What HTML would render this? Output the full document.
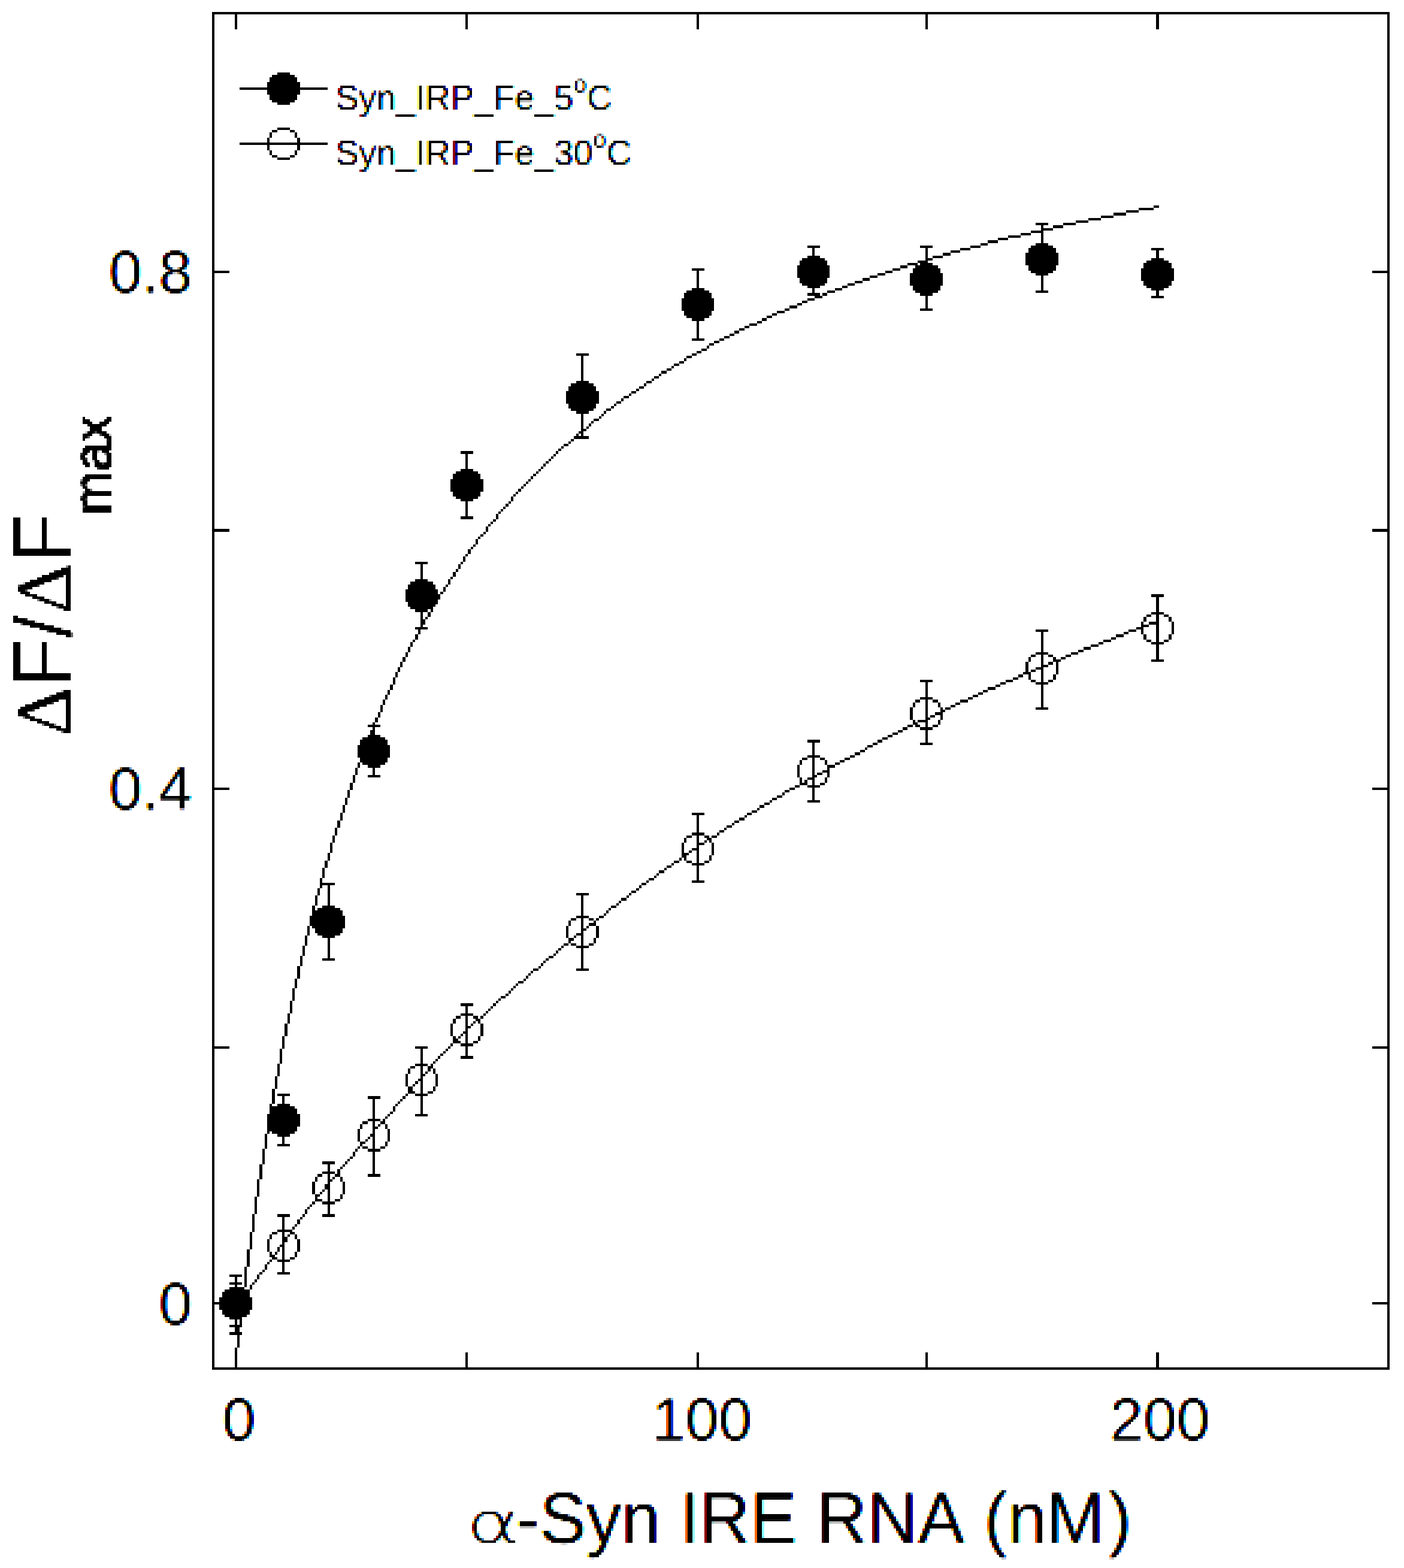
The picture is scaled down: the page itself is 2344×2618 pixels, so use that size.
<!DOCTYPE html>
<html lang="en"><head><meta charset="utf-8"><title>Syn IRP Fe binding curve</title>
<style>
html,body{margin:0;padding:0;background:#fff;}
body{width:2344px;height:2618px;}
svg{display:block;}
text{font-family:"Liberation Sans",sans-serif;fill:#000;}
.g{fill:#000;stroke:none;shape-rendering:crispEdges;}
.tk{font-size:100px;stroke:#fff;stroke-width:0.8px;}
.lg{font-size:58.6px;stroke:#fff;stroke-width:0.6px;}
.sym{font-family:"Liberation Serif",serif;}
</style></head><body>
<svg width="2344" height="2618" viewBox="0 0 2344 2618">
<rect x="0" y="0" width="2344" height="2618" fill="#fff"/>
<defs><filter id="fl" filterUnits="userSpaceOnUse" x="548" y="123" width="520" height="180" color-interpolation-filters="sRGB"><feColorMatrix in="SourceGraphic" type="matrix" values="-1 0 0 1 0 -1 0 0 1 0 -1 0 0 1 0 0 0 0 0 1" result="v"/><feOffset in="v" dx="1" dy="0" result="vr"/><feOffset in="v" dx="-1" dy="0" result="vb"/><feColorMatrix in="vr" type="matrix" values="1 0 0 0 0 0 0 0 0 0 0 0 0 0 0 0 0 0 0 1" result="cr"/><feColorMatrix in="v" type="matrix" values="0 0 0 0 0 0 1 0 0 0 0 0 0 0 0 0 0 0 0 1" result="cg"/><feColorMatrix in="vb" type="matrix" values="0 0 0 0 0 0 0 0 0 0 0 0 1 0 0 0 0 0 0 1" result="cb"/><feComposite in="cr" in2="cg" operator="arithmetic" k1="0" k2="1" k3="1" k4="0" result="crg"/><feComposite in="crg" in2="cb" operator="arithmetic" k1="0" k2="1" k3="1" k4="0" result="rgb"/><feGaussianBlur in="rgb" stdDeviation="1.15" result="avg0"/><feComponentTransfer in="avg0" result="avg"><feFuncR type="linear" slope="2.2" intercept="-0.3"/><feFuncG type="linear" slope="2.2" intercept="-0.3"/><feFuncB type="linear" slope="2.2" intercept="-0.3"/></feComponentTransfer><feFlood flood-color="#000" x="548" y="123" width="4" height="4" result="blk"/><feFlood flood-color="#fff" x="549" y="124" width="1" height="1" result="dot"/><feMerge x="548" y="123" width="4" height="4" result="tile"><feMergeNode in="blk"/><feMergeNode in="dot"/></feMerge><feTile in="tile" result="grid"/><feComposite in="avg" in2="grid" operator="arithmetic" k1="1" k2="0" k3="0" k4="0" result="smp"/><feMorphology in="smp" operator="dilate" radius="1" result="d3"/><feOffset in="d3" dx="1" dy="0" result="d3x"/><feBlend in="d3" in2="d3x" mode="lighten" result="d4x"/><feOffset in="d4x" dx="0" dy="1" result="d4xy"/><feBlend in="d4x" in2="d4xy" mode="lighten" result="blocks"/><feColorMatrix in="blocks" type="matrix" values="0 0 0 0 1 0 0 0 0 1 0 0 0 0 0 0 0 1 0 0" result="Y"/><feColorMatrix in="blocks" type="matrix" values="0 0 0 0 1 0 0 0 0 0 0 0 0 0 1 0 1 0 0 0" result="M"/><feColorMatrix in="blocks" type="matrix" values="0 0 0 0 0 0 0 0 0 1 0 0 0 0 1 1 0 0 0 0" result="C"/><feBlend in="M" in2="Y" mode="multiply" result="YM"/><feBlend in="C" in2="YM" mode="multiply"/></filter><filter id="fa" filterUnits="userSpaceOnUse" x="172" y="406" width="156" height="100" color-interpolation-filters="sRGB"><feColorMatrix in="SourceGraphic" type="matrix" values="-1 0 0 1 0 -1 0 0 1 0 -1 0 0 1 0 0 0 0 0 1" result="v"/><feOffset in="v" dx="1" dy="0" result="vr"/><feOffset in="v" dx="-1" dy="0" result="vb"/><feColorMatrix in="vr" type="matrix" values="1 0 0 0 0 0 0 0 0 0 0 0 0 0 0 0 0 0 0 1" result="cr"/><feColorMatrix in="v" type="matrix" values="0 0 0 0 0 0 1 0 0 0 0 0 0 0 0 0 0 0 0 1" result="cg"/><feColorMatrix in="vb" type="matrix" values="0 0 0 0 0 0 0 0 0 0 0 0 1 0 0 0 0 0 0 1" result="cb"/><feComposite in="cr" in2="cg" operator="arithmetic" k1="0" k2="1" k3="1" k4="0" result="crg"/><feComposite in="crg" in2="cb" operator="arithmetic" k1="0" k2="1" k3="1" k4="0" result="rgb"/><feGaussianBlur in="rgb" stdDeviation="1.15" result="avg0"/><feComponentTransfer in="avg0" result="avg"><feFuncR type="linear" slope="2.2" intercept="-0.3"/><feFuncG type="linear" slope="2.2" intercept="-0.3"/><feFuncB type="linear" slope="2.2" intercept="-0.3"/></feComponentTransfer><feFlood flood-color="#000" x="172" y="406" width="4" height="4" result="blk"/><feFlood flood-color="#fff" x="173" y="407" width="1" height="1" result="dot"/><feMerge x="172" y="406" width="4" height="4" result="tile"><feMergeNode in="blk"/><feMergeNode in="dot"/></feMerge><feTile in="tile" result="grid"/><feComposite in="avg" in2="grid" operator="arithmetic" k1="1" k2="0" k3="0" k4="0" result="smp"/><feMorphology in="smp" operator="dilate" radius="1" result="d3"/><feOffset in="d3" dx="1" dy="0" result="d3x"/><feBlend in="d3" in2="d3x" mode="lighten" result="d4x"/><feOffset in="d4x" dx="0" dy="1" result="d4xy"/><feBlend in="d4x" in2="d4xy" mode="lighten" result="blocks"/><feColorMatrix in="blocks" type="matrix" values="0 0 0 0 1 0 0 0 0 1 0 0 0 0 0 0 0 1 0 0" result="Y"/><feColorMatrix in="blocks" type="matrix" values="0 0 0 0 1 0 0 0 0 0 0 0 0 0 1 0 1 0 0 0" result="M"/><feColorMatrix in="blocks" type="matrix" values="0 0 0 0 0 0 0 0 0 1 0 0 0 0 1 1 0 0 0 0" result="C"/><feBlend in="M" in2="Y" mode="multiply" result="YM"/><feBlend in="C" in2="YM" mode="multiply"/></filter><filter id="fb" filterUnits="userSpaceOnUse" x="172" y="1269" width="156" height="100" color-interpolation-filters="sRGB"><feColorMatrix in="SourceGraphic" type="matrix" values="-1 0 0 1 0 -1 0 0 1 0 -1 0 0 1 0 0 0 0 0 1" result="v"/><feOffset in="v" dx="1" dy="0" result="vr"/><feOffset in="v" dx="-1" dy="0" result="vb"/><feColorMatrix in="vr" type="matrix" values="1 0 0 0 0 0 0 0 0 0 0 0 0 0 0 0 0 0 0 1" result="cr"/><feColorMatrix in="v" type="matrix" values="0 0 0 0 0 0 1 0 0 0 0 0 0 0 0 0 0 0 0 1" result="cg"/><feColorMatrix in="vb" type="matrix" values="0 0 0 0 0 0 0 0 0 0 0 0 1 0 0 0 0 0 0 1" result="cb"/><feComposite in="cr" in2="cg" operator="arithmetic" k1="0" k2="1" k3="1" k4="0" result="crg"/><feComposite in="crg" in2="cb" operator="arithmetic" k1="0" k2="1" k3="1" k4="0" result="rgb"/><feGaussianBlur in="rgb" stdDeviation="1.15" result="avg0"/><feComponentTransfer in="avg0" result="avg"><feFuncR type="linear" slope="2.2" intercept="-0.3"/><feFuncG type="linear" slope="2.2" intercept="-0.3"/><feFuncB type="linear" slope="2.2" intercept="-0.3"/></feComponentTransfer><feFlood flood-color="#000" x="172" y="1269" width="4" height="4" result="blk"/><feFlood flood-color="#fff" x="173" y="1270" width="1" height="1" result="dot"/><feMerge x="172" y="1269" width="4" height="4" result="tile"><feMergeNode in="blk"/><feMergeNode in="dot"/></feMerge><feTile in="tile" result="grid"/><feComposite in="avg" in2="grid" operator="arithmetic" k1="1" k2="0" k3="0" k4="0" result="smp"/><feMorphology in="smp" operator="dilate" radius="1" result="d3"/><feOffset in="d3" dx="1" dy="0" result="d3x"/><feBlend in="d3" in2="d3x" mode="lighten" result="d4x"/><feOffset in="d4x" dx="0" dy="1" result="d4xy"/><feBlend in="d4x" in2="d4xy" mode="lighten" result="blocks"/><feColorMatrix in="blocks" type="matrix" values="0 0 0 0 1 0 0 0 0 1 0 0 0 0 0 0 0 1 0 0" result="Y"/><feColorMatrix in="blocks" type="matrix" values="0 0 0 0 1 0 0 0 0 0 0 0 0 0 1 0 1 0 0 0" result="M"/><feColorMatrix in="blocks" type="matrix" values="0 0 0 0 0 0 0 0 0 1 0 0 0 0 1 1 0 0 0 0" result="C"/><feBlend in="M" in2="Y" mode="multiply" result="YM"/><feBlend in="C" in2="YM" mode="multiply"/></filter><filter id="fc" filterUnits="userSpaceOnUse" x="256" y="2129" width="72" height="100" color-interpolation-filters="sRGB"><feColorMatrix in="SourceGraphic" type="matrix" values="-1 0 0 1 0 -1 0 0 1 0 -1 0 0 1 0 0 0 0 0 1" result="v"/><feOffset in="v" dx="1" dy="0" result="vr"/><feOffset in="v" dx="-1" dy="0" result="vb"/><feColorMatrix in="vr" type="matrix" values="1 0 0 0 0 0 0 0 0 0 0 0 0 0 0 0 0 0 0 1" result="cr"/><feColorMatrix in="v" type="matrix" values="0 0 0 0 0 0 1 0 0 0 0 0 0 0 0 0 0 0 0 1" result="cg"/><feColorMatrix in="vb" type="matrix" values="0 0 0 0 0 0 0 0 0 0 0 0 1 0 0 0 0 0 0 1" result="cb"/><feComposite in="cr" in2="cg" operator="arithmetic" k1="0" k2="1" k3="1" k4="0" result="crg"/><feComposite in="crg" in2="cb" operator="arithmetic" k1="0" k2="1" k3="1" k4="0" result="rgb"/><feGaussianBlur in="rgb" stdDeviation="1.15" result="avg0"/><feComponentTransfer in="avg0" result="avg"><feFuncR type="linear" slope="2.2" intercept="-0.3"/><feFuncG type="linear" slope="2.2" intercept="-0.3"/><feFuncB type="linear" slope="2.2" intercept="-0.3"/></feComponentTransfer><feFlood flood-color="#000" x="256" y="2129" width="4" height="4" result="blk"/><feFlood flood-color="#fff" x="257" y="2130" width="1" height="1" result="dot"/><feMerge x="256" y="2129" width="4" height="4" result="tile"><feMergeNode in="blk"/><feMergeNode in="dot"/></feMerge><feTile in="tile" result="grid"/><feComposite in="avg" in2="grid" operator="arithmetic" k1="1" k2="0" k3="0" k4="0" result="smp"/><feMorphology in="smp" operator="dilate" radius="1" result="d3"/><feOffset in="d3" dx="1" dy="0" result="d3x"/><feBlend in="d3" in2="d3x" mode="lighten" result="d4x"/><feOffset in="d4x" dx="0" dy="1" result="d4xy"/><feBlend in="d4x" in2="d4xy" mode="lighten" result="blocks"/><feColorMatrix in="blocks" type="matrix" values="0 0 0 0 1 0 0 0 0 1 0 0 0 0 0 0 0 1 0 0" result="Y"/><feColorMatrix in="blocks" type="matrix" values="0 0 0 0 1 0 0 0 0 0 0 0 0 0 1 0 1 0 0 0" result="M"/><feColorMatrix in="blocks" type="matrix" values="0 0 0 0 0 0 0 0 0 1 0 0 0 0 1 1 0 0 0 0" result="C"/><feBlend in="M" in2="Y" mode="multiply" result="YM"/><feBlend in="C" in2="YM" mode="multiply"/></filter><filter id="fd" filterUnits="userSpaceOnUse" x="364" y="2322" width="72" height="100" color-interpolation-filters="sRGB"><feColorMatrix in="SourceGraphic" type="matrix" values="-1 0 0 1 0 -1 0 0 1 0 -1 0 0 1 0 0 0 0 0 1" result="v"/><feOffset in="v" dx="1" dy="0" result="vr"/><feOffset in="v" dx="-1" dy="0" result="vb"/><feColorMatrix in="vr" type="matrix" values="1 0 0 0 0 0 0 0 0 0 0 0 0 0 0 0 0 0 0 1" result="cr"/><feColorMatrix in="v" type="matrix" values="0 0 0 0 0 0 1 0 0 0 0 0 0 0 0 0 0 0 0 1" result="cg"/><feColorMatrix in="vb" type="matrix" values="0 0 0 0 0 0 0 0 0 0 0 0 1 0 0 0 0 0 0 1" result="cb"/><feComposite in="cr" in2="cg" operator="arithmetic" k1="0" k2="1" k3="1" k4="0" result="crg"/><feComposite in="crg" in2="cb" operator="arithmetic" k1="0" k2="1" k3="1" k4="0" result="rgb"/><feGaussianBlur in="rgb" stdDeviation="1.15" result="avg0"/><feComponentTransfer in="avg0" result="avg"><feFuncR type="linear" slope="2.2" intercept="-0.3"/><feFuncG type="linear" slope="2.2" intercept="-0.3"/><feFuncB type="linear" slope="2.2" intercept="-0.3"/></feComponentTransfer><feFlood flood-color="#000" x="364" y="2322" width="4" height="4" result="blk"/><feFlood flood-color="#fff" x="365" y="2323" width="1" height="1" result="dot"/><feMerge x="364" y="2322" width="4" height="4" result="tile"><feMergeNode in="blk"/><feMergeNode in="dot"/></feMerge><feTile in="tile" result="grid"/><feComposite in="avg" in2="grid" operator="arithmetic" k1="1" k2="0" k3="0" k4="0" result="smp"/><feMorphology in="smp" operator="dilate" radius="1" result="d3"/><feOffset in="d3" dx="1" dy="0" result="d3x"/><feBlend in="d3" in2="d3x" mode="lighten" result="d4x"/><feOffset in="d4x" dx="0" dy="1" result="d4xy"/><feBlend in="d4x" in2="d4xy" mode="lighten" result="blocks"/><feColorMatrix in="blocks" type="matrix" values="0 0 0 0 1 0 0 0 0 1 0 0 0 0 0 0 0 1 0 0" result="Y"/><feColorMatrix in="blocks" type="matrix" values="0 0 0 0 1 0 0 0 0 0 0 0 0 0 1 0 1 0 0 0" result="M"/><feColorMatrix in="blocks" type="matrix" values="0 0 0 0 0 0 0 0 0 1 0 0 0 0 1 1 0 0 0 0" result="C"/><feBlend in="M" in2="Y" mode="multiply" result="YM"/><feBlend in="C" in2="YM" mode="multiply"/></filter><filter id="fe" filterUnits="userSpaceOnUse" x="1084" y="2322" width="180" height="100" color-interpolation-filters="sRGB"><feColorMatrix in="SourceGraphic" type="matrix" values="-1 0 0 1 0 -1 0 0 1 0 -1 0 0 1 0 0 0 0 0 1" result="v"/><feOffset in="v" dx="1" dy="0" result="vr"/><feOffset in="v" dx="-1" dy="0" result="vb"/><feColorMatrix in="vr" type="matrix" values="1 0 0 0 0 0 0 0 0 0 0 0 0 0 0 0 0 0 0 1" result="cr"/><feColorMatrix in="v" type="matrix" values="0 0 0 0 0 0 1 0 0 0 0 0 0 0 0 0 0 0 0 1" result="cg"/><feColorMatrix in="vb" type="matrix" values="0 0 0 0 0 0 0 0 0 0 0 0 1 0 0 0 0 0 0 1" result="cb"/><feComposite in="cr" in2="cg" operator="arithmetic" k1="0" k2="1" k3="1" k4="0" result="crg"/><feComposite in="crg" in2="cb" operator="arithmetic" k1="0" k2="1" k3="1" k4="0" result="rgb"/><feGaussianBlur in="rgb" stdDeviation="1.15" result="avg0"/><feComponentTransfer in="avg0" result="avg"><feFuncR type="linear" slope="2.2" intercept="-0.3"/><feFuncG type="linear" slope="2.2" intercept="-0.3"/><feFuncB type="linear" slope="2.2" intercept="-0.3"/></feComponentTransfer><feFlood flood-color="#000" x="1084" y="2322" width="4" height="4" result="blk"/><feFlood flood-color="#fff" x="1085" y="2323" width="1" height="1" result="dot"/><feMerge x="1084" y="2322" width="4" height="4" result="tile"><feMergeNode in="blk"/><feMergeNode in="dot"/></feMerge><feTile in="tile" result="grid"/><feComposite in="avg" in2="grid" operator="arithmetic" k1="1" k2="0" k3="0" k4="0" result="smp"/><feMorphology in="smp" operator="dilate" radius="1" result="d3"/><feOffset in="d3" dx="1" dy="0" result="d3x"/><feBlend in="d3" in2="d3x" mode="lighten" result="d4x"/><feOffset in="d4x" dx="0" dy="1" result="d4xy"/><feBlend in="d4x" in2="d4xy" mode="lighten" result="blocks"/><feColorMatrix in="blocks" type="matrix" values="0 0 0 0 1 0 0 0 0 1 0 0 0 0 0 0 0 1 0 0" result="Y"/><feColorMatrix in="blocks" type="matrix" values="0 0 0 0 1 0 0 0 0 0 0 0 0 0 1 0 1 0 0 0" result="M"/><feColorMatrix in="blocks" type="matrix" values="0 0 0 0 0 0 0 0 0 1 0 0 0 0 1 1 0 0 0 0" result="C"/><feBlend in="M" in2="Y" mode="multiply" result="YM"/><feBlend in="C" in2="YM" mode="multiply"/></filter><filter id="ff" filterUnits="userSpaceOnUse" x="1844" y="2322" width="184" height="100" color-interpolation-filters="sRGB"><feColorMatrix in="SourceGraphic" type="matrix" values="-1 0 0 1 0 -1 0 0 1 0 -1 0 0 1 0 0 0 0 0 1" result="v"/><feOffset in="v" dx="1" dy="0" result="vr"/><feOffset in="v" dx="-1" dy="0" result="vb"/><feColorMatrix in="vr" type="matrix" values="1 0 0 0 0 0 0 0 0 0 0 0 0 0 0 0 0 0 0 1" result="cr"/><feColorMatrix in="v" type="matrix" values="0 0 0 0 0 0 1 0 0 0 0 0 0 0 0 0 0 0 0 1" result="cg"/><feColorMatrix in="vb" type="matrix" values="0 0 0 0 0 0 0 0 0 0 0 0 1 0 0 0 0 0 0 1" result="cb"/><feComposite in="cr" in2="cg" operator="arithmetic" k1="0" k2="1" k3="1" k4="0" result="crg"/><feComposite in="crg" in2="cb" operator="arithmetic" k1="0" k2="1" k3="1" k4="0" result="rgb"/><feGaussianBlur in="rgb" stdDeviation="1.15" result="avg0"/><feComponentTransfer in="avg0" result="avg"><feFuncR type="linear" slope="2.2" intercept="-0.3"/><feFuncG type="linear" slope="2.2" intercept="-0.3"/><feFuncB type="linear" slope="2.2" intercept="-0.3"/></feComponentTransfer><feFlood flood-color="#000" x="1844" y="2322" width="4" height="4" result="blk"/><feFlood flood-color="#fff" x="1845" y="2323" width="1" height="1" result="dot"/><feMerge x="1844" y="2322" width="4" height="4" result="tile"><feMergeNode in="blk"/><feMergeNode in="dot"/></feMerge><feTile in="tile" result="grid"/><feComposite in="avg" in2="grid" operator="arithmetic" k1="1" k2="0" k3="0" k4="0" result="smp"/><feMorphology in="smp" operator="dilate" radius="1" result="d3"/><feOffset in="d3" dx="1" dy="0" result="d3x"/><feBlend in="d3" in2="d3x" mode="lighten" result="d4x"/><feOffset in="d4x" dx="0" dy="1" result="d4xy"/><feBlend in="d4x" in2="d4xy" mode="lighten" result="blocks"/><feColorMatrix in="blocks" type="matrix" values="0 0 0 0 1 0 0 0 0 1 0 0 0 0 0 0 0 1 0 0" result="Y"/><feColorMatrix in="blocks" type="matrix" values="0 0 0 0 1 0 0 0 0 0 0 0 0 0 1 0 1 0 0 0" result="M"/><feColorMatrix in="blocks" type="matrix" values="0 0 0 0 0 0 0 0 0 1 0 0 0 0 1 1 0 0 0 0" result="C"/><feBlend in="M" in2="Y" mode="multiply" result="YM"/><feBlend in="C" in2="YM" mode="multiply"/></filter><filter id="fx" filterUnits="userSpaceOnUse" x="776" y="2476" width="1120" height="140" color-interpolation-filters="sRGB"><feColorMatrix in="SourceGraphic" type="matrix" values="-1 0 0 1 0 -1 0 0 1 0 -1 0 0 1 0 0 0 0 0 1" result="v"/><feOffset in="v" dx="1" dy="0" result="vr"/><feOffset in="v" dx="-1" dy="0" result="vb"/><feColorMatrix in="vr" type="matrix" values="1 0 0 0 0 0 0 0 0 0 0 0 0 0 0 0 0 0 0 1" result="cr"/><feColorMatrix in="v" type="matrix" values="0 0 0 0 0 0 1 0 0 0 0 0 0 0 0 0 0 0 0 1" result="cg"/><feColorMatrix in="vb" type="matrix" values="0 0 0 0 0 0 0 0 0 0 0 0 1 0 0 0 0 0 0 1" result="cb"/><feComposite in="cr" in2="cg" operator="arithmetic" k1="0" k2="1" k3="1" k4="0" result="crg"/><feComposite in="crg" in2="cb" operator="arithmetic" k1="0" k2="1" k3="1" k4="0" result="rgb"/><feGaussianBlur in="rgb" stdDeviation="1.15" result="avg0"/><feComponentTransfer in="avg0" result="avg"><feFuncR type="linear" slope="2.2" intercept="-0.3"/><feFuncG type="linear" slope="2.2" intercept="-0.3"/><feFuncB type="linear" slope="2.2" intercept="-0.3"/></feComponentTransfer><feFlood flood-color="#000" x="776" y="2476" width="4" height="4" result="blk"/><feFlood flood-color="#fff" x="777" y="2477" width="1" height="1" result="dot"/><feMerge x="776" y="2476" width="4" height="4" result="tile"><feMergeNode in="blk"/><feMergeNode in="dot"/></feMerge><feTile in="tile" result="grid"/><feComposite in="avg" in2="grid" operator="arithmetic" k1="1" k2="0" k3="0" k4="0" result="smp"/><feMorphology in="smp" operator="dilate" radius="1" result="d3"/><feOffset in="d3" dx="1" dy="0" result="d3x"/><feBlend in="d3" in2="d3x" mode="lighten" result="d4x"/><feOffset in="d4x" dx="0" dy="1" result="d4xy"/><feBlend in="d4x" in2="d4xy" mode="lighten" result="blocks"/><feColorMatrix in="blocks" type="matrix" values="0 0 0 0 1 0 0 0 0 1 0 0 0 0 0 0 0 1 0 0" result="Y"/><feColorMatrix in="blocks" type="matrix" values="0 0 0 0 1 0 0 0 0 0 0 0 0 0 1 0 1 0 0 0" result="M"/><feColorMatrix in="blocks" type="matrix" values="0 0 0 0 0 0 0 0 0 1 0 0 0 0 1 1 0 0 0 0" result="C"/><feBlend in="M" in2="Y" mode="multiply" result="YM"/><feBlend in="C" in2="YM" mode="multiply"/></filter><filter id="bw" filterUnits="userSpaceOnUse" x="6" y="680" width="196" height="560" color-interpolation-filters="sRGB"><feColorMatrix in="SourceGraphic" type="matrix" values="-1 0 0 1 0 -1 0 0 1 0 -1 0 0 1 0 0 0 0 0 1" result="v"/><feGaussianBlur in="v" stdDeviation="1.15" result="avg0"/><feComponentTransfer in="avg0" result="avg"><feFuncR type="linear" slope="6" intercept="-2.4"/><feFuncG type="linear" slope="6" intercept="-2.4"/><feFuncB type="linear" slope="6" intercept="-2.4"/></feComponentTransfer><feFlood flood-color="#000" x="6" y="680" width="4" height="4" result="blk"/><feFlood flood-color="#fff" x="7" y="681" width="1" height="1" result="dot"/><feMerge x="6" y="680" width="4" height="4" result="tile"><feMergeNode in="blk"/><feMergeNode in="dot"/></feMerge><feTile in="tile" result="grid"/><feComposite in="avg" in2="grid" operator="arithmetic" k1="1" k2="0" k3="0" k4="0" result="smp"/><feMorphology in="smp" operator="dilate" radius="1" result="d3"/><feOffset in="d3" dx="1" dy="0" result="d3x"/><feBlend in="d3" in2="d3x" mode="lighten" result="d4x"/><feOffset in="d4x" dx="0" dy="1" result="d4xy"/><feBlend in="d4x" in2="d4xy" mode="lighten" result="blocks"/><feColorMatrix in="blocks" type="matrix" values="0 0 0 0 1 0 0 0 0 1 0 0 0 0 0 0 0 1 0 0" result="Y"/><feColorMatrix in="blocks" type="matrix" values="0 0 0 0 1 0 0 0 0 0 0 0 0 0 1 0 1 0 0 0" result="M"/><feColorMatrix in="blocks" type="matrix" values="0 0 0 0 0 0 0 0 0 1 0 0 0 0 1 1 0 0 0 0" result="C"/><feBlend in="M" in2="Y" mode="multiply" result="YM"/><feBlend in="C" in2="YM" mode="multiply"/></filter></defs>
<path class="g" d="M354 20h1966v4h-1966zM354 24h4v428h-4zM392 24h4v25h-4zM777 24h4v25h-4zM1163 24h4v25h-4zM1545 24h4v25h-4zM1930 24h5v25h-5zM2316 24h4v428h-4zM463 121h21v4h-21zM454 125h38v4h-38zM450 129h46v8h-46zM446 137h55v9h-55zM400 146h147v4h-147zM446 150h55v8h-55zM450 158h46v9h-46zM454 167h38v4h-38zM463 171h21v4h-21zM463 213h21v4h-21zM454 217h9v4h-9zM484 217h8v4h-8zM450 221h4v9h-4zM492 221h4v9h-4zM446 230h4v8h-4zM496 230h5v8h-5zM400 238h147v4h-147zM446 242h4v9h-4zM496 242h5v9h-5zM450 251h4v8h-4zM492 251h4v8h-4zM454 259h9v4h-9zM484 259h8v4h-8zM463 263h21v4h-21zM1926 343h9v4h-9zM1901 347h25v4h-25zM1880 351h21v4h-21zM1859 355h21v5h-21zM1838 360h21v4h-21zM1817 364h21v4h-21zM1796 368h21v4h-21zM1729 372h21v4h-21zM1775 372h21v4h-21zM1738 376h4v5h-4zM1758 376h17v5h-17zM1738 381h20v4h-20zM1721 385h21v4h-21zM1704 389h17v4h-17zM1738 389h4v17h-4zM1683 393h21v4h-21zM1666 397h17v4h-17zM1649 401h17v5h-17zM1637 406h12v4h-12zM1729 406h21v4h-21zM1348 410h21v4h-21zM1536 410h21v4h-21zM1620 410h17v4h-17zM1721 410h37v4h-37zM1356 414h4v13h-4zM1545 414h4v17h-4zM1603 414h17v4h-17zM1717 414h46v8h-46zM1922 414h21v4h-21zM1587 418h16v4h-16zM1930 418h5v13h-5zM1574 422h13v5h-13zM1712 422h55v21h-55zM1348 427h21v4h-21zM1557 427h17v4h-17zM1339 431h38v4h-38zM1545 431h12v4h-12zM1922 431h21v4h-21zM1335 435h46v8h-46zM1532 435h17v4h-17zM1914 435h37v4h-37zM1515 439h17v4h-17zM1536 439h21v4h-21zM1909 439h47v9h-47zM1331 443h54v21h-54zM1503 443h12v5h-12zM1528 443h38v5h-38zM1717 443h46v9h-46zM1155 448h21v4h-21zM1490 448h13v4h-13zM1524 448h46v8h-46zM1905 448h55v21h-55zM354 452h29v4h-29zM1163 452h4v29h-4zM1478 452h12v4h-12zM1721 452h37v4h-37zM2291 452h29v4h-29zM354 456h4v427h-4zM1465 456h13v4h-13zM1519 456h55v21h-55zM1729 456h21v4h-21zM2316 456h4v427h-4zM1452 460h13v4h-13zM1738 460h4v25h-4zM1335 464h46v9h-46zM1440 464h12v5h-12zM1427 469h13v4h-13zM1909 469h47v8h-47zM1339 473h38v4h-38zM1415 473h12v4h-12zM1348 477h21v4h-21zM1406 477h9v4h-9zM1524 477h46v8h-46zM1914 477h37v4h-37zM1155 481h21v4h-21zM1356 481h4v8h-4zM1394 481h12v4h-12zM1922 481h21v4h-21zM1146 485h38v4h-38zM1381 485h13v4h-13zM1528 485h38v4h-38zM1729 485h21v4h-21zM1930 485h5v9h-5zM1142 489h46v9h-46zM1348 489h21v5h-21zM1373 489h8v5h-8zM1536 489h21v5h-21zM1360 494h13v4h-13zM1545 494h4v21h-4zM1922 494h21v4h-21zM1138 498h54v21h-54zM1348 498h12v4h-12zM1339 502h9v4h-9zM1331 506h8v4h-8zM1318 510h13v5h-13zM1310 515h8v4h-8zM1536 515h21v4h-21zM1142 519h46v8h-46zM1297 519h13v4h-13zM1289 523h8v4h-8zM1146 527h38v4h-38zM1280 527h9v4h-9zM1155 531h21v5h-21zM1272 531h8v5h-8zM1163 536h4v29h-4zM1264 536h8v4h-8zM1251 540h13v4h-13zM1243 544h8v4h-8zM1234 548h9v4h-9zM1226 552h8v5h-8zM1218 557h8v4h-8zM1209 561h9v4h-9zM1155 565h21v4h-21zM1201 565h8v4h-8zM1192 569h9v4h-9zM1184 573h8v4h-8zM1180 577h4v5h-4zM1171 582h9v4h-9zM1163 586h8v4h-8zM962 590h21v4h-21zM1155 590h8v4h-8zM970 594h4v42h-4zM1146 594h9v4h-9zM1142 598h4v5h-4zM1134 603h8v4h-8zM1125 607h9v4h-9zM1121 611h4v4h-4zM1113 615h8v4h-8zM1104 619h9v5h-9zM1100 624h4v4h-4zM1092 628h8v4h-8zM1088 632h4v4h-4zM962 636h21v4h-21zM1079 636h9v4h-9zM953 640h38v5h-38zM1075 640h4v5h-4zM949 645h46v8h-46zM1067 645h8v4h-8zM1062 649h5v4h-5zM945 653h55v21h-55zM1054 653h8v4h-8zM1050 657h4v4h-4zM1041 661h9v4h-9zM1037 665h4v5h-4zM1029 670h8v4h-8zM949 674h46v8h-46zM1025 674h4v4h-4zM1020 678h5v4h-5zM953 682h38v4h-38zM1012 682h8v4h-8zM962 686h21v5h-21zM1008 686h4v5h-4zM970 691h4v25h-4zM1004 691h4v4h-4zM1000 695h4v4h-4zM991 699h9v4h-9zM987 703h4v4h-4zM983 707h4v5h-4zM979 712h4v4h-4zM970 716h9v4h-9zM966 720h8v4h-8zM962 724h4v4h-4zM970 724h4v4h-4zM958 728h25v5h-25zM953 733h5v4h-5zM949 737h4v4h-4zM941 741h8v4h-8zM937 745h4v4h-4zM932 749h5v4h-5zM769 753h21v5h-21zM928 753h4v5h-4zM777 758h4v25h-4zM924 758h4v4h-4zM920 762h4v4h-4zM916 766h4v4h-4zM911 770h5v4h-5zM907 774h4v5h-4zM903 779h4v4h-4zM769 783h21v4h-21zM899 783h4v4h-4zM761 787h37v4h-37zM895 787h4v4h-4zM756 791h46v9h-46zM890 791h5v4h-5zM886 795h4v5h-4zM752 800h55v21h-55zM882 800h4v4h-4zM878 804h4v4h-4zM874 808h4v4h-4zM870 812h4v4h-4zM865 816h5v5h-5zM756 821h46v8h-46zM861 821h4v4h-4zM857 825h4v4h-4zM761 829h37v4h-37zM853 829h4v8h-4zM769 833h21v4h-21zM777 837h4v25h-4zM849 837h4v4h-4zM844 841h5v5h-5zM840 846h4v4h-4zM836 850h4v4h-4zM832 854h4v4h-4zM828 858h4v9h-4zM769 862h21v5h-21zM823 867h5v4h-5zM819 871h4v4h-4zM815 875h4v4h-4zM811 879h4v9h-4zM354 883h29v5h-29zM2291 883h29v5h-29zM354 888h4v427h-4zM807 888h4v4h-4zM2316 888h4v427h-4zM802 892h5v4h-5zM798 896h4v4h-4zM794 900h4v9h-4zM790 909h4v4h-4zM786 913h4v4h-4zM781 917h5v8h-5zM777 925h4v4h-4zM773 929h4v9h-4zM693 938h21v4h-21zM769 938h4v4h-4zM702 942h4v25h-4zM765 942h4v8h-4zM761 950h4v5h-4zM756 955h5v8h-5zM752 963h4v4h-4zM693 967h21v4h-21zM748 967h4v9h-4zM685 971h38v5h-38zM681 976h46v8h-46zM744 976h4v4h-4zM740 980h4v8h-4zM677 984h54v8h-54zM735 988h5v4h-5zM677 992h58v9h-58zM1922 992h21v5h-21zM1930 997h5v25h-5zM677 1001h54v4h-54zM681 1005h50v4h-50zM681 1009h46v4h-46zM685 1013h38v4h-38zM693 1017h21v5h-21zM719 1017h4v5h-4zM702 1022h4v12h-4zM714 1022h5v8h-5zM1922 1022h21v4h-21zM1914 1026h8v4h-8zM1930 1026h5v12h-5zM1943 1026h8v4h-8zM710 1030h4v4h-4zM1909 1030h5v8h-5zM1951 1030h5v8h-5zM702 1034h8v9h-8zM1905 1038h4v5h-4zM1918 1038h17v5h-17zM1956 1038h4v21h-4zM702 1043h4v4h-4zM1905 1043h13v4h-13zM1930 1043h5v29h-5zM693 1047h21v4h-21zM1897 1047h12v4h-12zM698 1051h4v8h-4zM1729 1051h21v4h-21zM1884 1051h13v4h-13zM1905 1051h4v8h-4zM1738 1055h4v34h-4zM1876 1055h8v4h-8zM693 1059h5v9h-5zM1863 1059h13v5h-13zM1909 1059h5v9h-5zM1951 1059h5v9h-5zM1855 1064h8v4h-8zM689 1068h4v4h-4zM1842 1068h13v4h-13zM1914 1068h8v4h-8zM1943 1068h8v4h-8zM685 1072h4v8h-4zM1834 1072h8v4h-8zM1922 1072h21v4h-21zM1821 1076h13v4h-13zM1930 1076h5v25h-5zM681 1080h4v9h-4zM1809 1080h12v5h-12zM1800 1085h9v4h-9zM677 1089h4v8h-4zM1729 1089h21v4h-21zM1788 1089h12v4h-12zM1721 1093h8v4h-8zM1738 1093h4v17h-4zM1750 1093h8v4h-8zM1779 1093h9v4h-9zM672 1097h5v8h-5zM1717 1097h4v8h-4zM1758 1097h5v4h-5zM1771 1097h8v4h-8zM1758 1101h13v4h-13zM1922 1101h21v4h-21zM668 1105h4v9h-4zM1712 1105h5v17h-5zM1750 1105h8v5h-8zM1763 1105h4v21h-4zM1738 1110h12v4h-12zM664 1114h4v8h-4zM1729 1114h13v4h-13zM1721 1118h8v4h-8zM1738 1118h4v21h-4zM660 1122h4v9h-4zM1708 1122h13v4h-13zM1700 1126h8v5h-8zM1717 1126h4v9h-4zM1758 1126h5v9h-5zM656 1131h4v12h-4zM1691 1131h9v4h-9zM1536 1135h21v4h-21zM1679 1135h12v4h-12zM1721 1135h8v4h-8zM1750 1135h8v4h-8zM1545 1139h4v25h-4zM1670 1139h9v4h-9zM1729 1139h21v4h-21zM651 1143h5v9h-5zM1662 1143h8v4h-8zM1738 1143h4v38h-4zM1649 1147h13v5h-13zM647 1152h4v8h-4zM1641 1152h8v4h-8zM1633 1156h8v4h-8zM643 1160h4v8h-4zM1624 1160h9v4h-9zM1536 1164h21v4h-21zM1616 1164h8v4h-8zM639 1168h4v9h-4zM1528 1168h8v5h-8zM1545 1168h4v30h-4zM1557 1168h9v5h-9zM1603 1168h13v5h-13zM1524 1173h4v8h-4zM1566 1173h4v8h-4zM1595 1173h8v4h-8zM635 1177h4v12h-4zM1587 1177h8v4h-8zM1519 1181h5v21h-5zM1570 1181h4v4h-4zM1578 1181h9v4h-9zM1729 1181h21v4h-21zM1570 1185h8v4h-8zM631 1189h4v9h-4zM1561 1189h13v5h-13zM1553 1194h8v4h-8zM1570 1194h4v8h-4zM626 1198h5v8h-5zM1545 1198h8v4h-8zM1524 1202h4v4h-4zM1532 1202h17v4h-17zM1566 1202h4v8h-4zM622 1206h4v4h-4zM1524 1206h8v4h-8zM1545 1206h4v8h-4zM614 1210h21v4h-21zM1515 1210h9v4h-9zM1528 1210h8v4h-8zM1557 1210h9v4h-9zM622 1214h4v5h-4zM1507 1214h8v5h-8zM1536 1214h21v5h-21zM618 1219h8v8h-8zM1499 1219h8v4h-8zM1545 1219h4v21h-4zM1490 1223h9v4h-9zM614 1227h21v4h-21zM1482 1227h8v4h-8zM605 1231h38v4h-38zM1473 1231h9v4h-9zM601 1235h46v9h-46zM1348 1235h21v5h-21zM1465 1235h8v5h-8zM1356 1240h4v21h-4zM1457 1240h8v4h-8zM1536 1240h21v4h-21zM597 1244h54v21h-54zM1448 1244h9v4h-9zM1444 1248h4v4h-4zM1436 1252h8v4h-8zM1427 1256h9v5h-9zM1348 1261h21v4h-21zM1419 1261h8v4h-8zM601 1265h46v8h-46zM1339 1265h9v4h-9zM1356 1265h4v29h-4zM1369 1265h8v4h-8zM1410 1265h9v4h-9zM1335 1269h4v8h-4zM1377 1269h4v8h-4zM1402 1269h8v4h-8zM597 1273h4v9h-4zM605 1273h38v4h-38zM1394 1273h8v4h-8zM614 1277h21v5h-21zM1331 1277h4v21h-4zM1381 1277h13v5h-13zM593 1282h4v12h-4zM622 1282h4v12h-4zM1381 1282h4v4h-4zM1373 1286h12v4h-12zM1364 1290h9v4h-9zM1381 1290h4v8h-4zM589 1294h4v13h-4zM614 1294h21v4h-21zM1356 1294h8v4h-8zM1335 1298h4v9h-4zM1348 1298h12v4h-12zM1377 1298h4v9h-4zM1343 1302h5v5h-5zM1356 1302h4v9h-4zM584 1307h5v12h-5zM1335 1307h13v4h-13zM1369 1307h8v4h-8zM1327 1311h8v4h-8zM1348 1311h21v4h-21zM354 1315h29v4h-29zM1318 1315h9v4h-9zM1356 1315h4v21h-4zM2291 1315h29v4h-29zM354 1319h4v428h-4zM580 1319h4v13h-4zM1310 1319h8v4h-8zM2316 1319h4v428h-4zM1306 1323h4v5h-4zM1297 1328h9v4h-9zM576 1332h4v12h-4zM1289 1332h8v4h-8zM1285 1336h4v4h-4zM1348 1336h21v4h-21zM1276 1340h9v4h-9zM572 1344h4v13h-4zM1268 1344h8v5h-8zM1264 1349h4v4h-4zM1255 1353h9v4h-9zM568 1357h4v13h-4zM1155 1357h21v4h-21zM1247 1357h8v4h-8zM1163 1361h4v29h-4zM1243 1361h4v4h-4zM1234 1365h9v5h-9zM563 1370h5v12h-5zM1226 1370h8v4h-8zM1222 1374h4v4h-4zM1213 1378h9v4h-9zM559 1382h4v13h-4zM1209 1382h4v4h-4zM1201 1386h8v4h-8zM1155 1390h21v5h-21zM1197 1390h4v5h-4zM555 1395h4v12h-4zM1146 1395h9v4h-9zM1163 1395h4v12h-4zM1176 1395h8v4h-8zM1188 1395h9v4h-9zM1142 1399h4v8h-4zM1180 1399h8v4h-8zM1176 1403h4v4h-4zM1184 1403h4v4h-4zM551 1407h4v17h-4zM1138 1407h4v17h-4zM1163 1407h13v4h-13zM1188 1407h4v21h-4zM1163 1411h4v5h-4zM1155 1416h12v4h-12zM1150 1420h5v4h-5zM1163 1420h4v21h-4zM547 1424h4v13h-4zM1138 1424h12v4h-12zM1138 1428h8v4h-8zM1184 1428h4v9h-4zM1134 1432h4v5h-4zM1142 1432h4v5h-4zM542 1437h5v12h-5zM1125 1437h9v4h-9zM1146 1437h9v4h-9zM1176 1437h8v4h-8zM1121 1441h4v4h-4zM1155 1441h21v4h-21zM1113 1445h8v4h-8zM1163 1445h4v25h-4zM538 1449h4v17h-4zM1109 1449h4v4h-4zM1100 1453h9v5h-9zM1096 1458h4v4h-4zM1092 1462h4v4h-4zM534 1466h4v8h-4zM1083 1466h9v4h-9zM1079 1470h4v4h-4zM1155 1470h21v4h-21zM534 1474h25v4h-25zM1071 1474h8v4h-8zM534 1478h4v5h-4zM547 1478h4v34h-4zM1067 1478h4v5h-4zM530 1483h4v12h-4zM1062 1483h5v4h-5zM1054 1487h8v4h-8zM962 1491h21v4h-21zM1050 1491h4v4h-4zM526 1495h4v17h-4zM970 1495h4v34h-4zM1046 1495h4v4h-4zM1037 1499h9v5h-9zM1033 1504h4v4h-4zM1029 1508h4v4h-4zM521 1512h5v8h-5zM538 1512h21v4h-21zM1020 1512h9v4h-9zM530 1516h38v4h-38zM1016 1516h4v4h-4zM521 1520h51v9h-51zM1012 1520h4v5h-4zM1008 1525h4v4h-4zM517 1529h59v17h-59zM962 1529h21v4h-21zM1000 1529h8v4h-8zM953 1533h9v4h-9zM970 1533h4v17h-4zM983 1533h8v4h-8zM995 1533h5v4h-5zM949 1537h4v9h-4zM991 1537h4v4h-4zM983 1541h12v5h-12zM513 1546h4v16h-4zM521 1546h55v4h-55zM945 1546h4v20h-4zM979 1546h4v4h-4zM995 1546h5v20h-5zM526 1550h46v8h-46zM970 1550h9v4h-9zM970 1554h4v4h-4zM530 1558h38v4h-38zM962 1558h12v4h-12zM509 1562h4v17h-4zM538 1562h21v4h-21zM958 1562h4v4h-4zM970 1562h4v17h-4zM547 1566h4v34h-4zM949 1566h9v5h-9zM991 1566h4v9h-4zM949 1571h4v4h-4zM941 1575h8v4h-8zM953 1575h9v4h-9zM983 1575h8v4h-8zM505 1579h4v17h-4zM937 1579h4v4h-4zM962 1579h21v4h-21zM932 1583h5v4h-5zM970 1583h4v34h-4zM928 1587h4v5h-4zM924 1592h4v4h-4zM501 1596h4v17h-4zM916 1596h8v4h-8zM538 1600h21v4h-21zM911 1600h5v4h-5zM907 1604h4v4h-4zM903 1608h4v5h-4zM496 1613h5v21h-5zM899 1613h4v4h-4zM890 1617h9v4h-9zM962 1617h21v4h-21zM886 1621h4v4h-4zM882 1625h4v4h-4zM878 1629h4v5h-4zM492 1634h4v16h-4zM874 1634h4v4h-4zM865 1638h9v4h-9zM861 1642h4v4h-4zM857 1646h4v4h-4zM488 1650h4v21h-4zM853 1650h4v4h-4zM849 1654h4v5h-4zM844 1659h5v4h-5zM836 1663h8v4h-8zM832 1667h4v4h-4zM484 1671h4v21h-4zM828 1671h4v4h-4zM769 1675h21v5h-21zM823 1675h5v5h-5zM777 1680h4v12h-4zM819 1680h4v4h-4zM815 1684h4v4h-4zM811 1688h4v4h-4zM480 1692h4v17h-4zM769 1692h21v4h-21zM807 1692h4v4h-4zM761 1696h8v5h-8zM777 1696h4v17h-4zM790 1696h8v5h-8zM802 1696h5v5h-5zM756 1701h5v8h-5zM794 1701h8v4h-8zM790 1705h4v4h-4zM798 1705h4v4h-4zM475 1709h5v21h-5zM752 1709h4v21h-4zM786 1709h4v4h-4zM802 1709h5v21h-5zM777 1713h9v4h-9zM777 1717h4v5h-4zM773 1722h8v4h-8zM769 1726h4v4h-4zM777 1726h4v16h-4zM471 1730h4v21h-4zM756 1730h5v4h-5zM765 1730h4v4h-4zM798 1730h4v8h-4zM756 1734h9v4h-9zM756 1738h13v4h-13zM790 1738h8v4h-8zM752 1742h4v5h-4zM769 1742h21v5h-21zM354 1747h29v4h-29zM693 1747h21v4h-21zM748 1747h4v4h-4zM777 1747h4v16h-4zM2291 1747h29v4h-29zM354 1751h4v423h-4zM467 1751h4v25h-4zM702 1751h4v25h-4zM744 1751h4v4h-4zM2316 1751h4v423h-4zM740 1755h4v4h-4zM735 1759h5v4h-5zM731 1763h4v5h-4zM769 1763h21v5h-21zM727 1768h4v4h-4zM723 1772h4v4h-4zM463 1776h4v21h-4zM693 1776h21v4h-21zM719 1776h4v4h-4zM685 1780h8v4h-8zM702 1780h4v13h-4zM714 1780h9v4h-9zM681 1784h4v9h-4zM714 1784h5v5h-5zM723 1784h4v9h-4zM710 1789h4v4h-4zM677 1793h4v21h-4zM702 1793h8v4h-8zM727 1793h4v21h-4zM459 1797h4v21h-4zM702 1797h4v4h-4zM698 1801h8v4h-8zM693 1805h5v5h-5zM702 1805h4v21h-4zM689 1810h4v4h-4zM681 1814h8v8h-8zM723 1814h4v8h-4zM454 1818h5v25h-5zM681 1822h12v4h-12zM714 1822h9v4h-9zM463 1826h21v4h-21zM677 1826h4v4h-4zM693 1826h21v4h-21zM471 1830h4v13h-4zM614 1830h21v5h-21zM672 1830h5v5h-5zM702 1830h4v30h-4zM622 1835h4v33h-4zM668 1835h4v4h-4zM664 1839h4v4h-4zM450 1843h4v4h-4zM463 1843h21v4h-21zM660 1843h4v4h-4zM450 1847h42v4h-42zM656 1847h4v9h-4zM450 1851h46v9h-46zM651 1856h5v4h-5zM446 1860h55v21h-55zM647 1860h4v4h-4zM693 1860h21v4h-21zM643 1864h4v4h-4zM614 1868h21v4h-21zM639 1868h4v4h-4zM605 1872h9v5h-9zM622 1872h4v9h-4zM635 1872h8v5h-8zM601 1877h4v8h-4zM631 1877h4v4h-4zM643 1877h4v8h-4zM446 1881h50v8h-50zM622 1881h9v4h-9zM597 1885h4v21h-4zM622 1885h4v8h-4zM647 1885h4v21h-4zM446 1889h4v4h-4zM454 1889h38v4h-38zM442 1893h4v25h-4zM463 1893h21v5h-21zM618 1893h8v5h-8zM471 1898h4v12h-4zM614 1898h4v4h-4zM622 1898h4v20h-4zM610 1902h4v4h-4zM601 1906h9v4h-9zM643 1906h4v8h-4zM463 1910h21v4h-21zM601 1910h4v4h-4zM597 1914h4v4h-4zM605 1914h9v4h-9zM635 1914h8v4h-8zM438 1918h4v26h-4zM593 1918h4v5h-4zM614 1918h21v5h-21zM589 1923h4v8h-4zM622 1923h4v37h-4zM584 1931h5v4h-5zM580 1935h4v4h-4zM538 1939h21v5h-21zM576 1939h4v5h-4zM433 1944h5v25h-5zM547 1944h4v12h-4zM572 1944h4v4h-4zM568 1948h4v4h-4zM563 1952h5v8h-5zM538 1956h21v4h-21zM530 1960h8v5h-8zM547 1960h4v9h-4zM559 1960h9v5h-9zM614 1960h21v5h-21zM526 1965h4v8h-4zM555 1965h4v4h-4zM568 1965h4v8h-4zM429 1969h4v29h-4zM547 1969h8v4h-8zM521 1973h5v21h-5zM547 1973h4v4h-4zM572 1973h4v21h-4zM542 1977h9v9h-9zM538 1986h4v4h-4zM547 1986h4v20h-4zM534 1990h4v4h-4zM526 1994h8v4h-8zM568 1994h4v8h-4zM425 1998h4v29h-4zM526 1998h4v4h-4zM526 2002h12v4h-12zM559 2002h9v4h-9zM521 2006h5v5h-5zM538 2006h21v5h-21zM517 2011h4v4h-4zM547 2011h4v16h-4zM513 2015h4v4h-4zM509 2019h4v8h-4zM421 2027h4v30h-4zM463 2027h21v5h-21zM505 2027h4v5h-4zM538 2027h21v5h-21zM471 2032h4v21h-4zM501 2032h4v4h-4zM496 2036h5v8h-5zM492 2044h4v4h-4zM488 2048h4v5h-4zM463 2053h25v4h-25zM417 2057h4v29h-4zM454 2057h9v4h-9zM471 2057h4v8h-4zM484 2057h8v4h-8zM450 2061h4v8h-4zM480 2061h4v4h-4zM492 2061h4v8h-4zM471 2065h9v9h-9zM446 2069h4v21h-4zM496 2069h5v21h-5zM471 2074h4v4h-4zM467 2078h8v4h-8zM463 2082h4v8h-4zM471 2082h4v21h-4zM412 2086h5v29h-5zM450 2090h4v5h-4zM459 2090h4v5h-4zM492 2090h4v9h-4zM450 2095h9v4h-9zM454 2099h9v4h-9zM484 2099h8v4h-8zM450 2103h4v4h-4zM463 2103h21v4h-21zM446 2107h4v4h-4zM471 2107h4v17h-4zM442 2111h4v9h-4zM408 2115h4v34h-4zM438 2120h4v4h-4zM433 2124h5v4h-5zM463 2124h21v4h-21zM383 2128h21v4h-21zM429 2128h4v8h-4zM392 2132h4v9h-4zM425 2136h4v5h-4zM383 2141h21v4h-21zM421 2141h4v4h-4zM392 2145h4v4h-4zM417 2145h4v8h-4zM383 2149h25v4h-25zM375 2153h42v4h-42zM371 2157h46v9h-46zM366 2166h55v8h-55zM354 2174h67v4h-67zM2291 2174h29v4h-29zM354 2178h4v105h-4zM366 2178h55v9h-55zM2316 2178h4v105h-4zM371 2187h46v8h-46zM375 2195h37v4h-37zM383 2199h21v4h-21zM392 2203h4v9h-4zM400 2203h4v9h-4zM383 2212h21v4h-21zM392 2216h8v8h-8zM383 2224h21v5h-21zM396 2229h4v21h-4zM392 2250h4v33h-4zM777 2258h4v25h-4zM1163 2258h4v25h-4zM1545 2258h4v25h-4zM1930 2258h5v25h-5zM354 2283h1966v4h-1966z"/>
<g filter="url(#fl)">
<text class="lg" x="559.5" y="183.1">Syn_IRP_Fe_5<tspan font-size="40" dy="-29.5">o</tspan><tspan dy="29.5">C</tspan></text>
<text class="lg" x="559.5" y="275">Syn_IRP_Fe_30<tspan font-size="40" dy="-29.5">o</tspan><tspan dy="29.5">C</tspan></text>
</g>
<g filter="url(#fa)"><text class="tk" x="320" y="487.5" text-anchor="end">0.8</text></g>
<g filter="url(#fb)"><text class="tk" x="320" y="1351.2" text-anchor="end">0.4</text></g>
<g filter="url(#fc)"><text class="tk" x="320" y="2210.5" text-anchor="end">0</text></g>
<g filter="url(#fd)"><text class="tk" x="398.6" y="2403.5" text-anchor="middle">0</text></g>
<g filter="url(#fe)"><text class="tk" x="1171.5" y="2403.5" text-anchor="middle">100</text></g>
<g filter="url(#ff)"><text class="tk" x="1936" y="2403.5" text-anchor="middle">200</text></g>
<g filter="url(#fx)">
<text transform="translate(777.8 2574.6) scale(1.475 1)" font-size="93" font-weight="200" style="font-family:'DejaVu Sans Light','DejaVu Sans',sans-serif">α</text>
<text transform="translate(0 2576) scale(1 1.037)" x="861" y="0" font-size="117.2" stroke="#fff" stroke-width="0.4">-Syn IRE RNA<tspan dx="40.6"> </tspan><tspan x="1642 1682 1746 1850">(nM)</tspan></text>
</g>
<g filter="url(#bw)">
<g transform="translate(118.1 1226) rotate(-90)">
<text class="sym" x="-4" y="0" font-size="132">Δ</text>
<text transform="scale(1 1.045)" x="79.6" y="0" font-size="134">F</text>
<text x="161.5" y="0" font-size="134">/</text>
<text class="sym" x="201" y="0" font-size="132">Δ</text>
<text transform="scale(1 1.045)" x="286.3" y="0" font-size="134">F</text>
<text x="366" y="67.3" font-size="91" textLength="167" lengthAdjust="spacingAndGlyphs" stroke="#000" stroke-width="2">max</text>
</g>
</g>
</svg>
</body></html>
